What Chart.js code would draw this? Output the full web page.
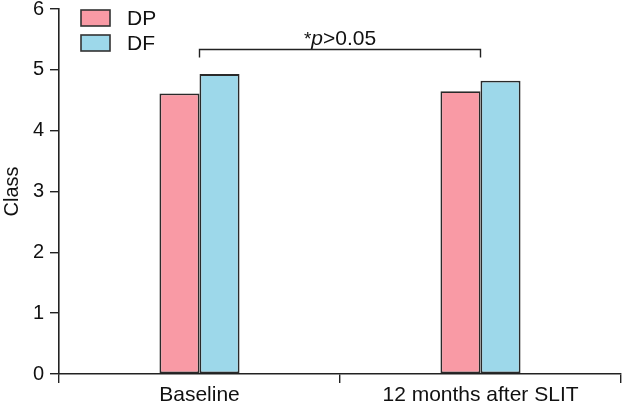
<!DOCTYPE html>
<html>
<head>
<meta charset="utf-8">
<script src="https://cdn.jsdelivr.net/npm/chart.js@4"></script>
<style>
  html, body { margin: 0; padding: 0; background: #fff; }
  #wrap { width: 622px; height: 406px; }
</style>
</head>
<body>
<div id="wrap"><canvas id="chart" width="622" height="406"></canvas></div>
<script>
// values
const categories = ["Baseline", "12 months after SLIT"];
const dpValues = [4.61, 4.65];
const dfValues = [4.93, 4.82];
const yTicks = [0, 1, 2, 3, 4, 5, 6];
const seriesNames = ["DP", "DF"];
const seriesColors = ["#F99AA5", "#9DD8EA"];
const sigLabel = ["*", "p", ">0.05"];
const sigLevel = 5.35;

const FONT = "'Liberation Sans', Arial, sans-serif";
const FS = 20;

const extras = {
    id: 'extras',
    afterDatasetsDraw(chart) {
        const ctx = chart.ctx;
        const x = chart.scales.x, y = chart.scales.y;
        ctx.save();
        // legend (top-left)
        ctx.lineWidth = 1.6;
        ctx.strokeStyle = '#333';
        ctx.font = (FS + 1) + 'px ' + FONT;
        ctx.textBaseline = 'middle';
        seriesNames.forEach((name, i) => {
            const top = 10 + i * 25;
            ctx.fillStyle = seriesColors[i];
            ctx.fillRect(81, top, 29, 16);
            ctx.strokeRect(81, top, 29, 16);
            ctx.fillStyle = '#111';
            ctx.fillText(name, 127, top + 9);
        });
        // significance bracket between group centres
        const x1 = x.getPixelForValue(0);
        const x2 = x.getPixelForValue(1);
        const yl = Math.round(y.getPixelForValue(sigLevel)) + 0.5;
        ctx.beginPath();
        ctx.moveTo(x1, yl + 8);
        ctx.lineTo(x1, yl);
        ctx.lineTo(x2, yl);
        ctx.lineTo(x2, yl + 8);
        ctx.lineWidth = 1.4;
        ctx.strokeStyle = '#222';
        ctx.stroke();
        // label "*p>0.05" with italic p
        ctx.fillStyle = '#111';
        ctx.textBaseline = 'alphabetic';
        const parts = [
            { t: sigLabel[0], f: (FS - 1) + 'px ' + FONT },
            { t: sigLabel[1], f: 'italic ' + (FS + 1) + 'px ' + FONT },
            { t: sigLabel[2], f: (FS + 1) + 'px ' + FONT }
        ];
        let total = 0;
        parts.forEach(p => { ctx.font = p.f; p.w = ctx.measureText(p.t).width; total += p.w; });
        let cx = (x1 + x2) / 2 - total / 2;
        parts.forEach(p => { ctx.font = p.f; ctx.fillText(p.t, cx, yl - 5); cx += p.w; });
        ctx.restore();
    }
};

new Chart(document.getElementById('chart'), {
    type: 'bar',
    data: {
        labels: categories,
        datasets: [
            { label: seriesNames[0], data: dpValues, backgroundColor: seriesColors[0], borderColor: '#2a2a2a', borderWidth: 1.8, borderSkipped: false },
            { label: seriesNames[1], data: dfValues, backgroundColor: seriesColors[1], borderColor: '#2a2a2a', borderWidth: 1.8, borderSkipped: false }
        ]
    },
    options: {
        responsive: false,
        animation: false,
        layout: { padding: { top: 9, right: 1, left: 0, bottom: 0 } },
        datasets: { bar: { categoryPercentage: 0.285, barPercentage: 1 } },
        plugins: { legend: { display: false }, tooltip: { enabled: false } },
        scales: {
            x: {
                grid: { offset: true, drawOnChartArea: false, drawTicks: true, tickLength: 9, color: '#222', lineWidth: 1.4 },
                border: { color: '#222', width: 1.6 },
                ticks: { color: '#111', font: { family: FONT, size: FS + 1 }, padding: 0 },
                afterFit(s) { s.height = 32; s.paddingLeft = 0; s.paddingRight = 0; }
            },
            y: {
                min: 0, max: 6,
                afterBuildTicks(s) { s.ticks = yTicks.map(v => ({ value: v })); },
                grid: { drawOnChartArea: false, drawTicks: true, tickLength: 9, color: '#222', lineWidth: 1.4 },
                border: { color: '#222', width: 1.6 },
                ticks: { color: '#111', font: { family: FONT, size: FS }, padding: 6 },
                title: { display: true, text: 'Class', color: '#111', font: { family: FONT, size: 20 }, padding: { top: 0, bottom: 0 } },
                afterFit(s) { s.width = 59; s.paddingTop = 0; s.paddingBottom = 0; }
            }
        }
    },
    plugins: [extras]
});
</script>
</body>
</html>
